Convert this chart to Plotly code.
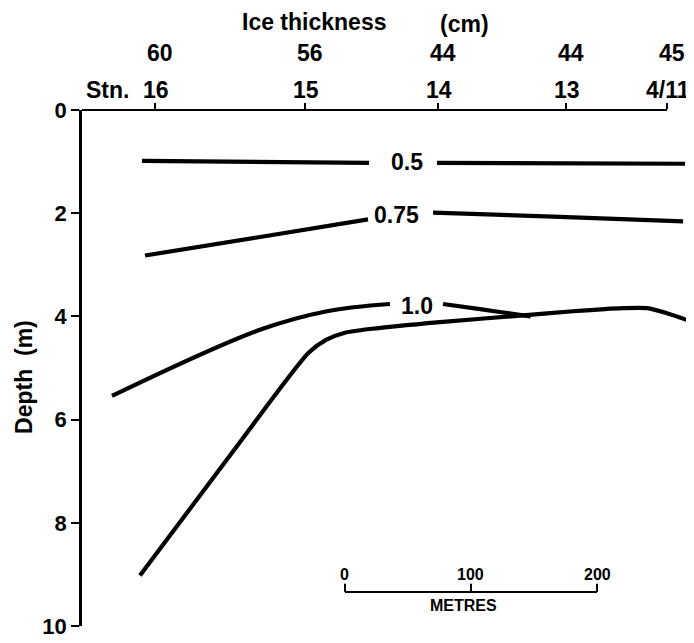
import plotly.graph_objects as go

# ---- data (metres along section, depth in m) ----
stations = ["16", "15", "14", "13", "4/11"]
station_x = [57.9, 177.0, 282.5, 384.0, 464.3]
ice_thickness = ["60", "56", "44", "44", "45"]

c05_left_x = [47.6, 227.8]
c05_left_y = [0.985, 1.023]
c05_right_x = [281.7, 478.6]
c05_right_y = [1.023, 1.042]

c075_left_x = [50.0, 138.9, 227.0]
c075_left_y = [2.82, 2.47, 2.12]
c075_right_x = [278.6, 379.4, 477.0]
c075_right_y = [1.99, 2.07, 2.16]

c10_upper_left_x = [23.8, 140.0, 194.4, 244.4]
c10_upper_left_y = [5.54, 4.27, 3.90, 3.76]
c10_upper_right_x = [286.5, 315.9, 350.0, 356.0]
c10_upper_right_y = [3.76, 3.86, 3.98, 4.00]
c10_lower_x = [46.0, 119.8, 180.0, 194.0, 208.0, 230.0, 284.1, 350.0, 389.7, 429.4, 448.4, 464.3, 482.5]
c10_lower_y = [9.02, 6.62, 4.70, 4.45, 4.32, 4.24, 4.11, 3.98, 3.90, 3.84, 3.84, 3.94, 4.09]

contour_labels = ["0.5", "0.75", "1.0"]
contour_label_x = [257.9, 249.2, 265.9]
contour_label_y = [1.00, 2.03, 3.80]

scale_ticks = [0, 100, 200]
scale_origin = 208.7
scale_depth = 9.34

yticks = [0, 2, 4, 6, 8, 10]

X_MAX = 482.5
FONT = "Liberation Sans, Arial, sans-serif"
BODY = 8  # default page body margin of the written html

fig = go.Figure()

segments = [
    (c05_left_x, c05_left_y, 0.6), (c05_right_x, c05_right_y, 0.6),
    (c075_left_x, c075_left_y, 0.6), (c075_right_x, c075_right_y, 0.8),
    (c10_upper_left_x, c10_upper_left_y, 1.0), (c10_upper_right_x, c10_upper_right_y, 0.8),
    (c10_lower_x, c10_lower_y, 0.7),
]
for sx, sy, sm in segments:
    fig.add_trace(go.Scatter(x=sx, y=sy, mode="lines",
                             line=dict(color="black", width=4.2, shape="spline", smoothing=sm),
                             cliponaxis=False, hoverinfo="skip", showlegend=False))

# scale bar
sb_x, sb_y = [], []
for t in scale_ticks:
    sb_x += [scale_origin + t, scale_origin + t, None]
    sb_y += [scale_depth - 0.16, scale_depth, None]
sb_x += [scale_origin, scale_origin + scale_ticks[-1]]
sb_y += [scale_depth, scale_depth]
fig.add_trace(go.Scatter(x=sb_x, y=sb_y, mode="lines", line=dict(color="black", width=2),
                         cliponaxis=False, hoverinfo="skip", showlegend=False))


def f(size):
    return dict(size=size, family=FONT, color="black", weight="bold")


def a(x, y, text, size, xref="paper", yref="paper", **kw):
    return dict(x=x, y=y, xref=xref, yref=yref, text=text, showarrow=False, font=f(size),
                xanchor="center", yanchor="middle", **kw)


ann = []
for lab, lx, ly in zip(contour_labels, contour_label_x, contour_label_y):
    ann.append(a(lx, ly, lab, 23, "x", "y"))
for t in scale_ticks:
    ann.append(a(scale_origin + t, scale_depth - 0.34, str(t), 16, "x", "y"))
ann.append(a(scale_origin + 94, scale_depth + 0.26, "METRES", 16, "x", "y"))


# page-pixel positions converted to paper coordinates
def py(p):
    return (628 - p) / 518.0


def px(p):
    return (p - 82) / 608.0


for s, sxv in zip(stations, station_x):
    ann.append(a(sxv + 1, py(90), s, 23, "x", "paper"))
for t, sxv in zip(ice_thickness, station_x):
    ann.append(a(sxv + 4, py(53), t, 23, "x", "paper"))
ann.append(a(px(107), py(90), "Stn.", 23))
ann.append(a(px(314), py(22), "Ice thickness", 23))
ann.append(a(px(464), py(24), "(cm)", 23))
ann.append(a(px(24), py(378), "Depth  (m)", 23, textangle=-90))

fig.update_layout(
    width=694 - BODY, height=643 - BODY,
    margin=dict(l=82 - BODY, r=4, t=110 - BODY, b=15),
    paper_bgcolor="white", plot_bgcolor="white",
    showlegend=False,
    annotations=ann,
    shapes=[dict(type="line", xref="paper", yref="paper", x0=0, x1=station_x[-1] / X_MAX,
                 y0=1, y1=1, line=dict(color="black", width=2))],
)
fig.update_xaxes(range=[0, X_MAX], side="top", tickvals=station_x, showticklabels=False,
                 ticks="outside", ticklen=6, tickwidth=2, tickcolor="black",
                 showline=False, showgrid=False, zeroline=False)
fig.update_yaxes(range=[10, 0], tickvals=yticks, ticks="outside", ticklen=8, tickwidth=2,
                 tickcolor="black", showline=True, linewidth=2.5, linecolor="black",
                 showgrid=False, zeroline=False, tickfont=f(22))

fig.write_html("out.html")
